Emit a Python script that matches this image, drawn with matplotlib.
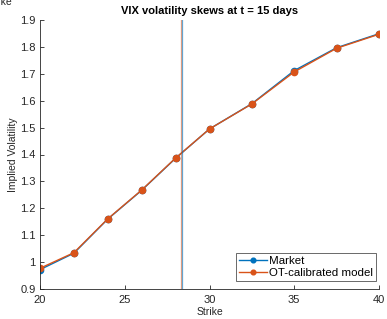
import matplotlib

matplotlib.use("Agg")

import matplotlib.pyplot as plt

strikes = [20, 22, 24, 26, 28, 30, 32.5, 35, 37.5, 40]
market_iv = [0.972, 1.033, 1.160, 1.267, 1.386, 1.495, 1.589, 1.712, 1.797, 1.849]
model_iv = [0.977, 1.035, 1.161, 1.268, 1.387, 1.495, 1.588, 1.707, 1.795, 1.847]
forward_market = 28.38
forward_model = 28.30

blue = (0.0, 0.447, 0.741)
orange = (0.85, 0.325, 0.098)
axis_grey = (0.15, 0.15, 0.15)

plt.rcParams["font.family"] = ["Liberation Sans", "DejaVu Sans"]

fig = plt.figure(figsize=(3.87, 3.19), dpi=100)
ax = fig.add_axes([40 / 387, 1 - 289 / 319, 339 / 387, 269 / 319])

ax.plot(strikes, market_iv, "-o", color=blue, lw=1.0, ms=4.5, label="Market")
ax.plot(strikes, model_iv, "-o", color=orange, lw=1.0, ms=4.5, label="OT-calibrated model")
ax.axvline(forward_model, color=orange, lw=0.9, alpha=0.55)
ax.axvline(forward_market, color=blue, lw=0.9, alpha=0.6)

ax.set_xlim(20, 40)
ax.set_ylim(0.9, 1.9)
ax.set_xticks([20, 25, 30, 35, 40])
ax.set_yticks([0.9, 1.0, 1.1, 1.2, 1.3, 1.4, 1.5, 1.6, 1.7, 1.8, 1.9])
ax.set_yticklabels(["0.9", "1", "1.1", "1.2", "1.3", "1.4", "1.5", "1.6", "1.7", "1.8", "1.9"])

for side in ["top", "right"]:
    ax.spines[side].set_visible(False)
for side in ["left", "bottom"]:
    ax.spines[side].set_color(axis_grey)
    ax.spines[side].set_linewidth(0.6)
ax.tick_params(direction="in", length=3, width=0.6, color=axis_grey, labelsize=8,
               labelcolor=axis_grey, pad=3)
ax.tick_params(axis="x", pad=4)

ax.set_xlabel("Strike", fontsize=7.5, color=axis_grey, labelpad=2)
ax.set_ylabel("Implied Volatility", fontsize=7.5, color=axis_grey, labelpad=2)
ax.set_title("VIX volatility skews at t = 15 days", fontsize=8, fontweight="bold", pad=4)

leg = ax.legend(loc="lower right", bbox_to_anchor=(0.991, 0.03), borderaxespad=0,
                fontsize=8.25, frameon=True, fancybox=False, markerscale=0.75,
                handlelength=2.4, borderpad=0.25, labelspacing=0.15, handletextpad=0.2)
leg.get_frame().set_edgecolor(axis_grey)
leg.get_frame().set_linewidth(0.6)

# leftover label of the panel above, clipped by the figure edge
fig.text(-14 / 387, 1 - 5 / 319, "Strike", fontsize=7.5, color=axis_grey, va="baseline")

fig.savefig("out.png", dpi=100)
